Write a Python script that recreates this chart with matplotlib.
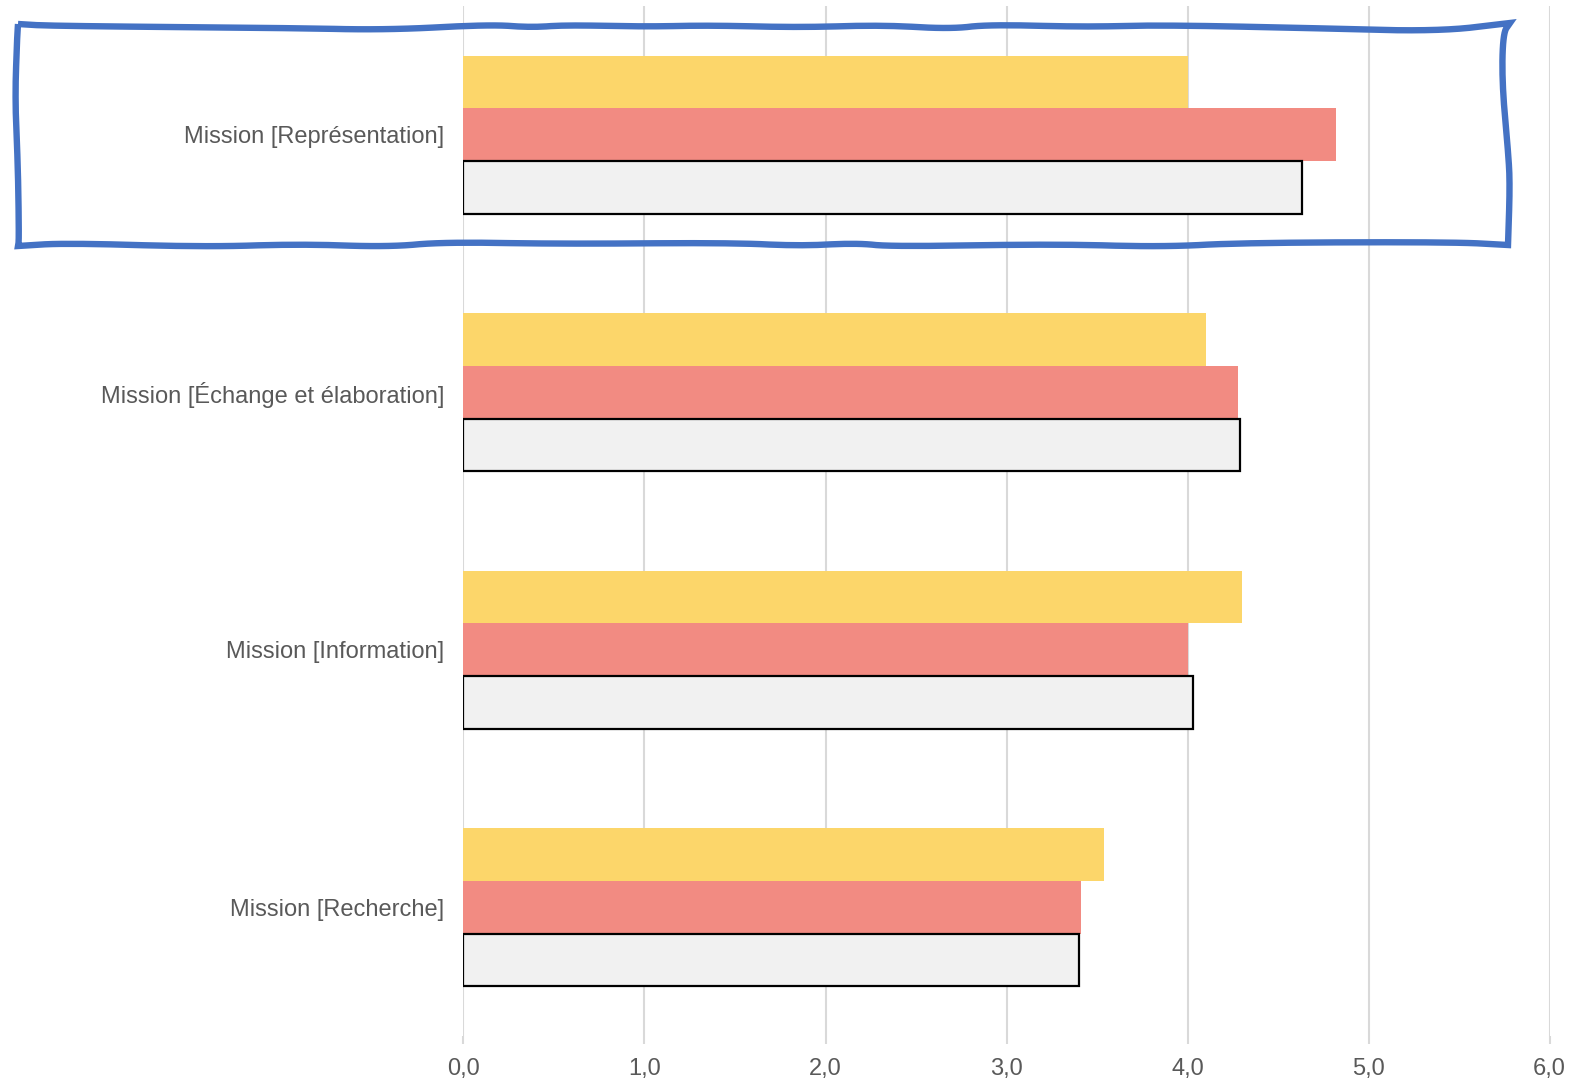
import matplotlib
matplotlib.use("Agg")
import matplotlib.pyplot as plt
import numpy as np
from matplotlib.lines import Line2D
from matplotlib.ticker import FuncFormatter

categories = [
    "Mission [Représentation]",
    "Mission [Échange et élaboration]",
    "Mission [Information]",
    "Mission [Recherche]",
]
serie_jaune = [4.00, 4.10, 4.30, 3.54]
serie_rouge = [4.82, 4.28, 4.00, 3.41]
serie_grise = [4.63, 4.29, 4.03, 3.40]
x_ticks = [0, 1, 2, 3, 4, 5, 6]

plt.rcParams["font.family"] = ["Liberation Sans", "DejaVu Sans"]

fig = plt.figure(figsize=(15.96, 10.79), dpi=100)
ax = fig.add_axes([0.2904, 0.040, 0.6805, 0.9544])

y = np.arange(len(categories))
h = 0.205

ax.barh(y - h, serie_jaune, height=h, color="#FCD66A", zorder=3)
ax.barh(y, serie_rouge, height=h, color="#F28B82", zorder=3)
ax.barh(y + h, serie_grise, height=h, color="#F1F1F1",
        edgecolor="black", linewidth=1.6, zorder=3)

ax.set_xlim(0, 6)
ax.set_ylim(len(categories) - 0.5, -0.5)
ax.set_xticks(x_ticks)
ax.xaxis.set_major_formatter(FuncFormatter(lambda v, p: f"{v:.1f}".replace(".", ",")))
ax.set_yticks(y)
ax.set_yticklabels(categories)

ax.grid(axis="x", color="#D9D9D9", linewidth=1.5, zorder=0)
for s in ax.spines.values():
    s.set_visible(False)

ax.tick_params(axis="x", length=6, color="#D9D9D9", width=1.5, pad=10,
               labelsize=17, labelcolor="#595959")
ax.tick_params(axis="y", length=0, pad=14, labelsize=17, labelcolor="#595959")


# hand-drawn blue frame around the first category (figure pixels, y down)
def smooth(pts, n=3):
    p = np.array(pts, dtype=float)
    for _ in range(n):
        q = [p[0]]
        for a, b in zip(p[:-1], p[1:]):
            q.append(0.75 * a + 0.25 * b)
            q.append(0.25 * a + 0.75 * b)
        q.append(p[-1])
        p = np.array(q)
    return p

top = [(18, 24), (51, 26), (291, 28), (388, 30), (490, 24.5), (531, 27.5),
       (566, 25), (645, 26.7), (709, 25.3), (800, 27.5), (882, 25), (950, 29),
       (989, 24.5), (1086, 27), (1157, 25), (1310, 28), (1438, 31.5), (1510, 23)]
right = [(1510, 23), (1503, 33), (1502, 83), (1508, 150), (1510, 183), (1508, 245)]
bottom = [(1508, 245), (1453, 242), (1244, 242.7), (1162, 247), (1055, 244),
          (892, 246.7), (856, 243), (800, 246), (730, 242.7), (561, 244),
          (444, 242), (388, 247), (301, 244), (204, 247), (66, 243), (18, 246)]
left = [(18, 246), (19, 240), (18, 167), (15, 100), (17, 40), (18, 24)]

frame = np.vstack([smooth(top), smooth(right), smooth(bottom), smooth(left)])
fx = frame[:, 0] / 1596
fy = 1 - frame[:, 1] / 1079
fig.add_artist(Line2D(fx, fy, color="#4472C4", linewidth=4.6,
                      solid_joinstyle="miter", solid_capstyle="butt",
                      transform=fig.transFigure))

fig.savefig("out.png", dpi=100)
